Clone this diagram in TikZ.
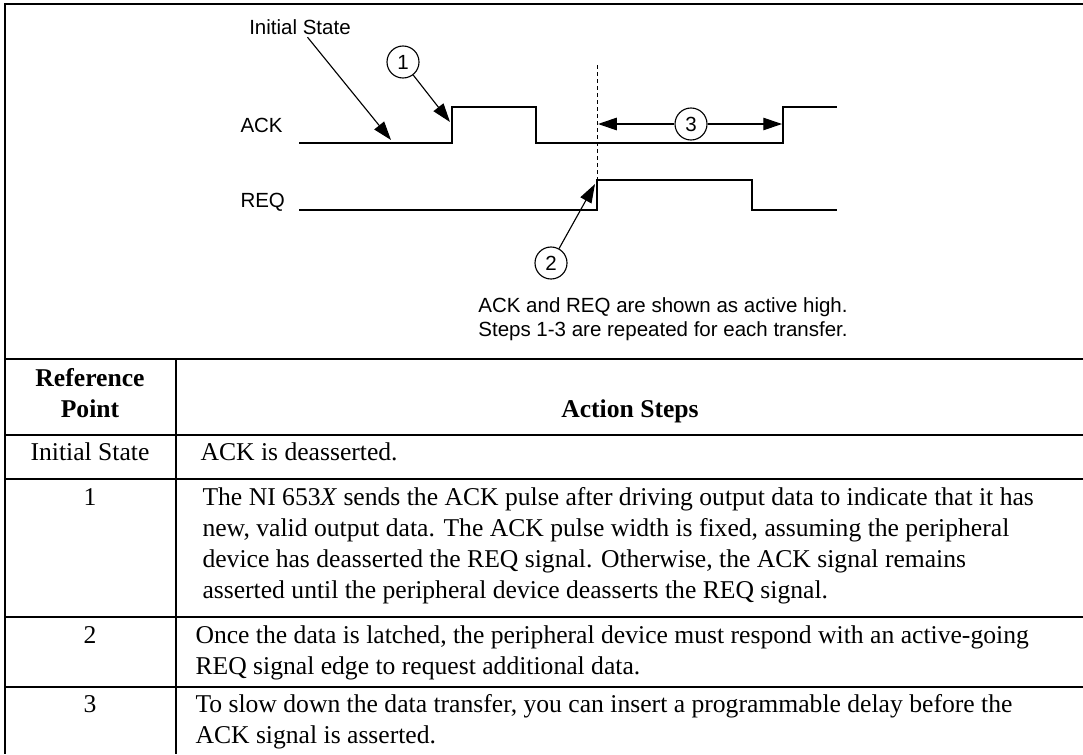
\documentclass[tikz,border=0pt]{standalone}
\usepackage{fontspec}
\setmainfont{Liberation Serif}
\newfontfamily\helv{Liberation Sans}
\usetikzlibrary{arrows.meta, positioning}

\begin{document}
\begin{tikzpicture}[x=0.4pt, y=-0.4pt]
\tikzstyle{frame} = [line width=0.8pt]
\tikzstyle{wave} = [line width=0.55pt, line join=miter]
\tikzstyle{pointer} = [line width=0.45pt, -{Triangle[length=7.5pt, width=5pt]}]
\tikzstyle{marker} = [circle, draw, line width=0.45pt, minimum size=12.8pt, inner sep=0pt, font=\helv\fontsize{8.2}{9}\selectfont]
\tikzstyle{siglabel} = [anchor=base west, inner sep=0pt, font=\helv\fontsize{8.2}{9}\selectfont]
\tikzstyle{cell} = [anchor=base west, inner sep=0pt, align=left, font=\fontsize{10.25}{12.4}\selectfont]
\tikzstyle{refcell} = [anchor=base, inner sep=0pt, align=center, font=\fontsize{10.25}{12.4}\selectfont]

\useasboundingbox (0,0) rectangle (1083,754);

% frame and table rules
\draw[frame] (1083,4) -- (5,4) -- (5,754);
\draw[frame] (5,359) -- (1083,359);
\draw[frame] (5,435) -- (1083,435);
\draw[frame] (5,479) -- (1083,479);
\draw[frame] (5,617) -- (1083,617);
\draw[frame] (5,687) -- (1083,687);
\draw[frame] (176,359) -- (176,754);

% timing diagram
\node (ack) [siglabel] at (240,132) {ACK};
\node (req) [siglabel] at (240,207) {REQ};
\draw[wave] (299,143) -- (452,143) -- (452,107) -- (536,107) -- (536,143)
  -- (783,143) -- (783,107) -- (837,107);
\draw[wave] (299,210) -- (597,210) -- (597,180) -- (752,180) -- (752,210) -- (837,210);
\draw[line width=0.4pt, dash pattern=on 1.6pt off 1.2pt] (597,65) -- (597,210);

\node (init) [siglabel, anchor=base] at (300,34) {Initial State};
\node (c1) [marker] at (403,62) {1};
\node (c2) [marker] at (551,263) {2};
\node (c3) [marker] at (691,124) {3};

\coordinate (e0) at (391,140);
\coordinate (e1) at (450,122);
\coordinate (e2) at (595,184);
\coordinate (l3) at (598,124);
\coordinate (r3) at (782,124);

\draw[pointer] ([xshift=3pt, yshift=-1pt]init.south) -- (e0);
\draw[pointer] (c1) -- (e1);
\draw[pointer] (c2) -- (e2);
\draw[pointer] (c3) -- (l3);
\draw[pointer] (c3) -- (r3);

% base of a two-line node is its last line
\node (note) [siglabel, anchor=base, align=center, font=\helv\fontsize{8.2}{9.6}\selectfont] at (663,336)
  {ACK and REQ are shown as active high.\\Steps 1-3 are repeated for each transfer.};

% table
\node (hdref) [refcell, font=\bfseries\fontsize{10.25}{12.4}\selectfont] at (90,417) {Reference\\Point};
\node (hdact) [refcell, font=\bfseries\fontsize{10.25}{12.4}\selectfont] at (630,417) {Action Steps};

\node (ref0) [refcell] at (90,460) {Initial State};
\node (ref1) [refcell] at (90,505) {1};
\node (ref2) [refcell] at (90,643) {2};
\node (ref3) [refcell] at (90,712) {3};

\node (act0) [cell] at (200,460) {ACK is deasserted.};
\node (act1) [cell] at (202,598) {The NI~653\textit{X} sends the ACK pulse after driving output data to indicate that it has\\
  new, valid output data. The ACK pulse width is fixed, assuming the peripheral\\
  device has deasserted the REQ signal. Otherwise, the ACK signal remains\\
  asserted until the peripheral device deasserts the REQ signal.};
\node (act2) [cell] at (195,674) {Once the data is latched, the peripheral device must respond with an active-going\\
  REQ signal edge to request additional data.};
\node (act3) [cell] at (195,743) {To slow down the data transfer, you can insert a programmable delay before the\\
  ACK signal is asserted.};

\end{tikzpicture}
\end{document}
